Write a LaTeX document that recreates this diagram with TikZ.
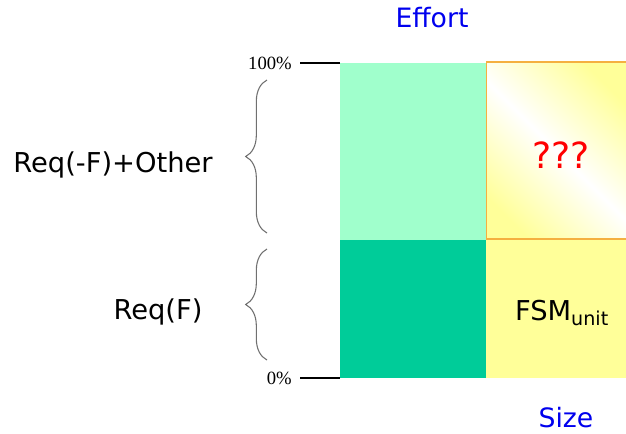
\documentclass[tikz,border=0pt]{standalone}
\usepackage{fontspec}
\setmainfont{DejaVu Sans}
\newfontfamily\serifpct{Liberation Serif}
\usetikzlibrary{decorations.pathreplacing}
\definecolor{mint}{HTML}{A0FFCC}
\definecolor{dgreen}{HTML}{00CC99}
\definecolor{yel}{HTML}{FFFF99}
\definecolor{orng}{HTML}{F5B040}
\definecolor{bluet}{HTML}{0000EE}
\definecolor{bracegray}{HTML}{707070}
\pgfdeclarehorizontalshading{ywy}{100bp}{color(0bp)=(yel);color(24bp)=(yel);color(50bp)=(white);color(76bp)=(yel);color(100bp)=(yel)}
\tikzset{
  lbl/.style={font=\fontsize{20.5}{22}\selectfont, inner sep=0pt},
  axlbl/.style={font=\fontsize{20}{22}\selectfont, text=bluet, inner sep=0pt},
  pct/.style={font=\serifpct\fontsize{14}{16}\selectfont, inner sep=0pt, anchor=east},
  tick/.style={line width=2pt, black},
  bracestyle/.style={draw=bracegray, line width=0.8pt, decorate, decoration={brace, amplitude=16pt}}
}
\begin{document}
\begin{tikzpicture}[x=0.75pt, y=-0.75pt]
\useasboundingbox (0,0) rectangle (626,433);
% blocks
\fill[mint] (340,63) rectangle (486,240);
\fill[dgreen] (340,240) rectangle (486,378);
\fill[yel] (486,240) rectangle (626,378);
\shade[shading=ywy, shading angle=45] (486,62) rectangle (626,239);
\draw[orng, line width=0.8pt] (626,62) -- (486.5,62) -- (486.5,239) -- (626,239);
% ticks
\coordinate (t100a) at (300,63);
\coordinate (t100b) at (340,63);
\coordinate (t0a) at (300,378);
\coordinate (t0b) at (340,378);
\draw[tick] (t100a) -- (t100b);
\draw[tick] (t0a) -- (t0b);
\node[pct] (p100) at (292,63) {100\%};
\node[pct] (p0) at (292,378) {0\%};
% braces
\coordinate (b1s) at (267,233);
\coordinate (b1e) at (267,80);
\coordinate (b2s) at (267,360);
\coordinate (b2e) at (267,249);
\draw[bracestyle] (b1s) -- (b1e);
\draw[bracestyle] (b2s) -- (b2e);
% labels
\node[lbl] (other) at (113,165) {Req(-F)+Other};
\node[lbl] (reqf) at (158,312) {Req(F)};
\node[axlbl] (effort) at (432,18) {Effort};
\node[axlbl] (size) at (566,418) {Size};
\node[lbl, text=red, font=\fontsize{27}{29}\selectfont] (qqq) at (561,155) {???};
\node[lbl] (fsm) at (562,313) {FSM\textsubscript{unit}};
\end{tikzpicture}
\end{document}
